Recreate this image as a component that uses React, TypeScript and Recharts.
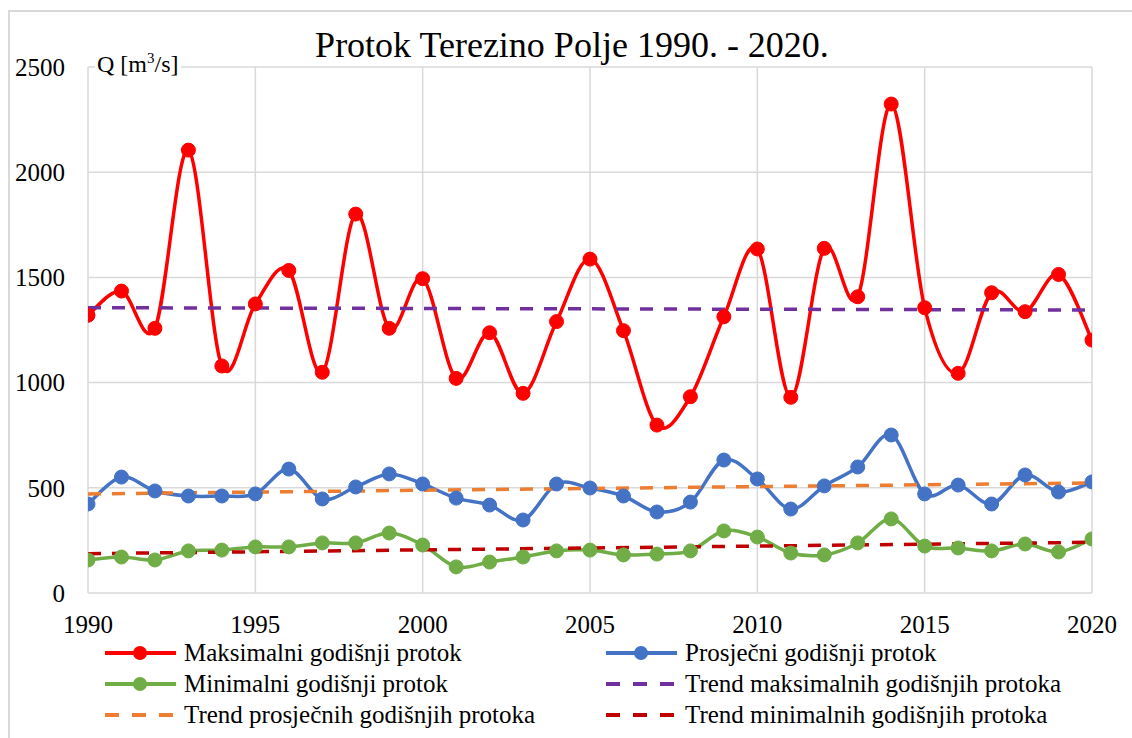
import { LineChart, Line, XAxis, YAxis, CartesianGrid } from "recharts";

// Years on the x axis
const years = [
  1990, 1991, 1992, 1993, 1994, 1995, 1996, 1997, 1998, 1999, 2000, 2001, 2002,
  2003, 2004, 2005, 2006, 2007, 2008, 2009, 2010, 2011, 2012, 2013, 2014, 2015,
  2016, 2017, 2018, 2019, 2020,
];

// Annual flows, m3/s
const maxFlow = [
  1320, 1435, 1258, 2105, 1079, 1374, 1533, 1049, 1801, 1258, 1494, 1020, 1237,
  949, 1290, 1587, 1247, 798, 933, 1313, 1635, 930, 1638, 1408, 2324, 1356,
  1044, 1427, 1337, 1514, 1202,
];
const meanFlow = [
  423, 551, 485, 461, 461, 471, 589, 447, 504, 566, 518, 451, 418, 347, 518,
  499, 461, 385, 432, 632, 542, 399, 509, 599, 751, 471, 513, 423, 561, 480,
  528,
];
const minFlow = [
  157, 171, 157, 200, 204, 219, 219, 238, 238, 285, 228, 124, 147, 171, 200,
  204, 181, 185, 200, 295, 266, 190, 181, 238, 352, 223, 214, 200, 233, 195,
  257,
];

// Linear trends, start and end values
const trendYears = [1990, 2020];
const trendMax = [1356, 1345];
const trendMean = [471, 523];
const trendMin = [187, 241];

const xTicks = [1990, 1995, 2000, 2005, 2010, 2015, 2020];
const yTicks = [0, 500, 1000, 1500, 2000, 2500];

const FONT = "'Liberation Serif', 'DejaVu Serif', 'Noto Serif', serif";

const data = years.map((year, i) => ({
  year,
  max: maxFlow[i],
  mean: meanFlow[i],
  min: minFlow[i],
}));

const trendData = trendYears.map((year, i) => ({
  year,
  tMax: trendMax[i],
  tMean: trendMean[i],
  tMin: trendMin[i],
}));

// Excel-like smoothed line (Catmull-Rom through the points)
const smoothCurve = (context: any) => {
  let pts: [number, number][] = [];
  return {
    areaStart() {},
    areaEnd() {},
    lineStart() {
      pts = [];
    },
    point(x: number, y: number) {
      pts.push([+x, +y]);
    },
    lineEnd() {
      const n = pts.length;
      if (!n) return;
      context.moveTo(pts[0][0], pts[0][1]);
      for (let i = 0; i < n - 1; i++) {
        const p0 = pts[Math.max(i - 1, 0)];
        const p1 = pts[i];
        const p2 = pts[i + 1];
        const p3 = pts[Math.min(i + 2, n - 1)];
        context.bezierCurveTo(
          p1[0] + (p2[0] - p0[0]) / 6,
          p1[1] + (p2[1] - p0[1]) / 6,
          p2[0] - (p3[0] - p1[0]) / 6,
          p2[1] - (p3[1] - p1[1]) / 6,
          p2[0],
          p2[1],
        );
      }
    },
  };
};

const legendItems = [
  { label: "Maksimalni godišnji protok", color: "#FF0000", dashed: false },
  { label: "Prosječni godišnji protok", color: "#4472C4", dashed: false },
  { label: "Minimalni godišnji protok", color: "#70AD47", dashed: false },
  { label: "Trend maksimalnih godišnjih protoka", color: "#7030A0", dashed: true },
  { label: "Trend prosječnih godišnjih protoka", color: "#ED7D31", dashed: true },
  { label: "Trend minimalnih godišnjih protoka", color: "#C00000", dashed: true },
];

const LegendSymbol = ({ color, dashed }: { color: string; dashed: boolean }) => (
  <svg width={72} height={30} style={{ display: "block" }}>
    <line
      x1={0}
      y1={15}
      x2={71}
      y2={15}
      stroke={color}
      strokeWidth={4}
      strokeDasharray={dashed ? "14 13" : undefined}
    />
    {!dashed && <circle cx={35} cy={15} r={7} fill={color} />}
  </svg>
);

const dotStyle = (color: string) => ({
  r: 7,
  fill: color,
  stroke: color,
  strokeWidth: 1,
});

const App = () => {
  if (typeof document !== "undefined") {
    document.documentElement.style.overflow = "hidden";
  }

  return (
    <div
      style={{
        position: "absolute",
        left: 0,
        top: 0,
        width: 1132,
        height: 738,
        overflow: "hidden",
        background: "#fff",
        fontFamily: FONT,
        color: "#000",
      }}
    >
      {/* chart border */}
      <div
        style={{
          position: "absolute",
          left: 8,
          top: 10,
          width: 1160,
          height: 760,
          border: "2px solid #d9d9d9",
        }}
      />

      <div
        style={{
          position: "absolute",
          left: 272,
          top: 27,
          width: 600,
          textAlign: "center",
          fontSize: 36,
          lineHeight: "36px",
          whiteSpace: "nowrap",
        }}
      >
        Protok Terezino Polje 1990. - 2020.
      </div>

      <div style={{ position: "absolute", left: 0, top: 0 }}>
        <LineChart
          width={1132}
          height={738}
          data={data}
          margin={{ top: 67, right: 40, bottom: 105, left: 8 }}
          style={{ fontFamily: FONT }}
        >
          <CartesianGrid stroke="#d9d9d9" strokeWidth={1.5} />
          <XAxis
            dataKey="year"
            type="number"
            domain={[1990, 2020]}
            ticks={xTicks}
            allowDataOverflow
            axisLine={false}
            tickLine={false}
            tickSize={0}
            tickMargin={22}
            height={40}
            tick={{ fontSize: 25, fill: "#000", fontFamily: FONT }}
          />
          <YAxis
            domain={[0, 2500]}
            ticks={yTicks}
            axisLine={false}
            tickLine={false}
            tickSize={0}
            tickMargin={23}
            width={80}
            tick={{ fontSize: 25, fill: "#000", fontFamily: FONT }}
          />
          <Line
            dataKey="max"
            type={smoothCurve as any}
            stroke="#FF0000"
            strokeWidth={3.5}
            dot={dotStyle("#FF0000")}
            activeDot={false}
            isAnimationActive={false}
          />
          <Line
            dataKey="mean"
            type={smoothCurve as any}
            stroke="#4472C4"
            strokeWidth={3.5}
            dot={dotStyle("#4472C4")}
            activeDot={false}
            isAnimationActive={false}
          />
          <Line
            dataKey="min"
            type={smoothCurve as any}
            stroke="#70AD47"
            strokeWidth={3.5}
            dot={dotStyle("#70AD47")}
            activeDot={false}
            isAnimationActive={false}
          />
          <Line
            data={trendData}
            dataKey="tMax"
            type="linear"
            stroke="#7030A0"
            strokeWidth={3.5}
            strokeDasharray="13 11"
            dot={false}
            activeDot={false}
            isAnimationActive={false}
          />
          <Line
            data={trendData}
            dataKey="tMean"
            type="linear"
            stroke="#ED7D31"
            strokeWidth={3.5}
            strokeDasharray="13 11"
            dot={false}
            activeDot={false}
            isAnimationActive={false}
          />
          <Line
            data={trendData}
            dataKey="tMin"
            type="linear"
            stroke="#C00000"
            strokeWidth={3.5}
            strokeDasharray="13 11"
            dot={false}
            activeDot={false}
            isAnimationActive={false}
          />
        </LineChart>
      </div>

      {/* axis title sits over the top grid line */}
      <div
        style={{
          position: "absolute",
          left: 95,
          top: 52,
          padding: "0 2px",
          background: "#fff",
          fontSize: 24,
          lineHeight: "24px",
          whiteSpace: "nowrap",
        }}
      >
        Q [m
        <span style={{ fontSize: 15, verticalAlign: "super", lineHeight: 0 }}>
          3
        </span>
        /s]
      </div>

      {/* legend, two columns by three rows */}
      {legendItems.map((item, i) => {
        const col = i % 2;
        const row = Math.floor(i / 2);
        return (
          <div
            key={item.label}
            style={{
              position: "absolute",
              left: col === 0 ? 105 : 606,
              top: 638 + row * 31,
              height: 30,
              display: "flex",
              alignItems: "center",
              whiteSpace: "nowrap",
            }}
          >
            <LegendSymbol color={item.color} dashed={item.dashed} />
            <span style={{ marginLeft: 7, fontSize: 25, lineHeight: "30px" }}>
              {item.label}
            </span>
          </div>
        );
      })}
    </div>
  );
};

export default App;
